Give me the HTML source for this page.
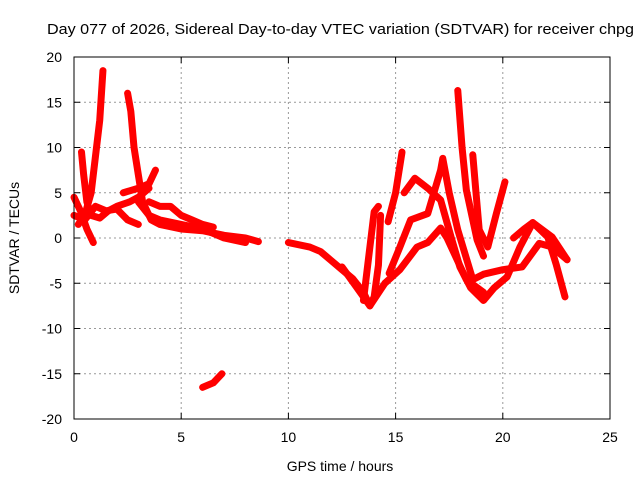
<!DOCTYPE html>
<html><head><meta charset="utf-8"><style>
body{margin:0;background:#fff;}
svg text{font-family:"Liberation Sans",sans-serif;font-size:14px;fill:#000;}
</style></head><body>
<svg id="chart" width="640" height="480" xmlns="http://www.w3.org/2000/svg">
<rect width="640" height="480" fill="#fff"/>
<text x="47" y="34" textLength="587" lengthAdjust="spacingAndGlyphs" style="font-size:15px">Day 077 of 2026, Sidereal Day-to-day VTEC variation (SDTVAR) for receiver chpg</text>
<g id="grid"></g>
<g id="series"></g>
<rect x="74" y="57" width="536" height="362" fill="none" stroke="#000" stroke-width="1"/>
<g id="ticks"></g>
<text x="340" y="471" text-anchor="middle">GPS time / hours</text>
<text transform="translate(19,238) rotate(-90)" text-anchor="middle">SDTVAR / TECUs</text>
</svg>
<script>
const xTicks=[0,5,10,15,20,25];
const yTicks=[-20,-15,-10,-5,0,5,10,15,20];
const s1=[[0.2,1.5],[0.5,2.5],[0.8,5],[1.0,9],[1.2,13],[1.35,18.5]];
const s2=[[0.35,9.5],[0.45,7],[0.6,4],[0.8,2.5],[1.2,2.2],[1.6,3],[2,3.5],[2.6,4],[3,4.5],[3.5,5.5]];
const s3=[[0,4.5],[0.3,3],[0.6,1],[0.9,-0.5]];
const s4=[[2.5,16],[2.65,14],[2.8,10],[3,7],[3.2,4],[3.6,2],[4,1.5],[5,1],[6,0.8],[7,0.3],[8,0],[8.6,-0.4]];
const s5=[[0,2.5],[0.5,2],[1,3.5],[1.5,3],[2,3.2],[2.5,2],[3,1.5]];
const s6=[[2.3,5],[3,5.5],[3.5,6],[3.8,7.5]];
const s7=[[3,4],[3.5,2.5],[4,2],[5,1.5],[6,1],[7,0],[8,-0.5]];
const s8=[[3.5,4],[4,3.5],[4.5,3.5],[5,2.5],[5.5,2],[6,1.5],[6.5,1.2]];
const s9=[[10,-0.5],[11,-1],[11.5,-1.5],[12,-2.5],[12.5,-3.5],[13,-4.5],[13.5,-6],[13.8,-7.5],[14,-6.5],[14.2,-3],[14.3,2.5]];
const s10=[[6,-16.5],[6.5,-16],[6.9,-15]];
const s11=[[13.5,-6.9],[14,2.9],[14.2,3.5]];
const s12=[[14.65,1.8],[15,5],[15.3,9.5]];
const s13=[[15.4,5],[15.9,6.6],[16.5,5.5],[17.1,4.2],[17.6,0],[18,-3.2],[18.5,-5.5],[19.1,-6.9],[19.6,-5.5],[20.2,-4.3],[20.8,-1],[21.4,1.7],[22.1,0.1],[22.5,-3],[22.9,-6.5]];
const s14=[[12.5,-3.2],[13.2,-5.5],[13.8,-7.5],[14.5,-5],[15.2,-3.5],[16,-1],[16.5,-0.5],[17.1,1.1],[17.4,0],[18.3,-4.6],[19.1,-6]];
const s15=[[14.7,-3.9],[15.2,-1],[15.7,2],[16.5,2.7],[17.1,7.5],[17.2,8.8],[17.5,5],[17.9,0.9],[18.6,-4.6],[19.1,-4],[20,-3.5],[20.9,-3.2],[21.7,-0.6],[22.3,-1],[23,-2.4]];
const s16=[[17.9,16.3],[18.1,10],[18.3,5.3],[18.8,-0.2],[19.1,-2]];
const s17=[[18.6,9.2],[18.75,5],[18.9,0.9],[19.3,-1],[19.7,2.7],[20.1,6.2]];
const s18=[[20.5,0],[21,1],[21.4,1.7],[22.3,0.1],[23,-2.4]];
const allSeries=[s1,s2,s3,s4,s5,s6,s7,s8,s9,s10,s11,s12,s13,s14,s15,s16,s17,s18];
const NS="http://www.w3.org/2000/svg";
const X=h=>74+h*536/25, Y=v=>238-v*362/40;
const grid=document.getElementById('grid'), ticks=document.getElementById('ticks'), ser=document.getElementById('series');
function mk(tag,attrs,parent){const e=document.createElementNS(NS,tag);for(const k in attrs)e.setAttribute(k,attrs[k]);parent.appendChild(e);return e;}
xTicks.forEach(t=>{
  const x=X(t);
  if(t>0&&t<25){const g=mk('line',{x1:x,x2:x,y1:57,y2:419,stroke:'#999','stroke-dasharray':'2,3'},grid);
  
  }
  mk('line',{x1:x,x2:x,y1:419,y2:413,stroke:'#000'},ticks);mk('line',{x1:x,x2:x,y1:57,y2:63,stroke:'#000'},ticks);
  const l=mk('text',{x:x,y:442,'text-anchor':'middle'},ticks);l.textContent=t;
  
  
});
yTicks.forEach(t=>{
  const y=Y(t);
  if(t>-20&&t<20){const g=mk('line',{x1:74,x2:610,y1:y,y2:y,stroke:'#999','stroke-dasharray':'2,3'},grid);
  
  }
  mk('line',{x1:74,x2:80,y1:y,y2:y,stroke:'#000'},ticks);mk('line',{x1:610,x2:604,y1:y,y2:y,stroke:'#000'},ticks);
  const l=mk('text',{x:62,y:y+5,'text-anchor':'end'},ticks);l.textContent=t;
  
  
});
allSeries.forEach((s,i)=>{
  const p=mk('polyline',{points:s.map(d=>X(d[0])+','+Y(d[1])).join(' '),fill:'none',stroke:'#f00','stroke-width':7,'stroke-linejoin':'round','stroke-linecap':'round'},ser);
  
  
});
</script>
</body></html>
